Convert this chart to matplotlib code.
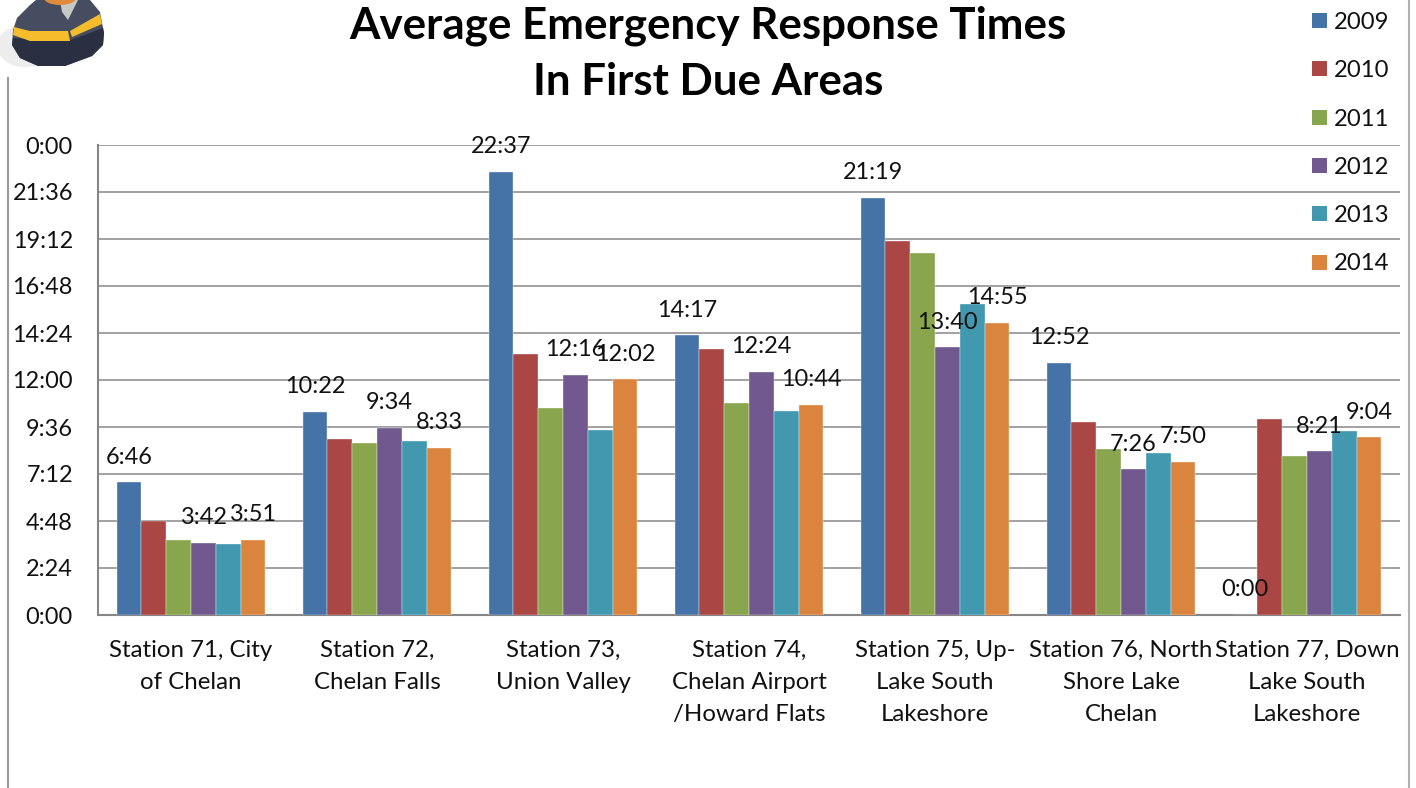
import matplotlib
matplotlib.use("Agg")
import matplotlib.pyplot as plt
from matplotlib.patches import Ellipse, Polygon
import numpy as np

plt.rcParams['font.family'] = ['Lato', 'DejaVu Sans']

stations = ["Station 71, City\nof Chelan", "Station 72,\nChelan Falls", "Station 73,\nUnion Valley",
            "Station 74,\nChelan Airport\n/Howard Flats", "Station 75, Up-\nLake South\nLakeshore",
            "Station 76, North\nShore Lake\nChelan", "Station 77, Down\nLake South\nLakeshore"]
years = ["2009", "2010", "2011", "2012", "2013", "2014"]
colors = ["#4572A7", "#AA4643", "#89A54E", "#71588F", "#4198AF", "#DB843D"]

# values in seconds
v2009 = [406, 622, 1357, 857, 1279, 772, 0]
v2010 = [288, 539, 800, 815, 1146, 592, 600]
v2011 = [230, 527, 634, 650, 1109, 509, 487]
v2012 = [222, 574, 736, 744, 820, 446, 501]
v2013 = [218, 533, 567, 625, 953, 496, 564]
v2014 = [231, 513, 722, 644, 895, 470, 544]
series = [v2009, v2010, v2011, v2012, v2013, v2014]
labelled = ["2009", "2012", "2014"]

y_ticks = [0, 144, 288, 432, 576, 720, 864, 1008, 1152, 1296, 1440]
y_tick_labels = ["0:00", "2:24", "4:48", "7:12", "9:36", "12:00", "14:24", "16:48", "19:12", "21:36", "0:00"]

title_lines = ["Average Emergency Response Times", "In First Due Areas"]

W, H = 1416, 788
fig = plt.figure(figsize=(W / 100, H / 100), dpi=100, facecolor="white")
ax = fig.add_axes([98 / W, (H - 615) / H, (1400 - 98) / W, 470 / H])

n = len(series)
bw = 1 / 7.5
x = np.arange(len(stations))
for i, (vals, c, yr) in enumerate(zip(series, colors, years)):
    bars = ax.bar(x + (i - (n - 1) / 2) * bw, vals, bw, color=c, edgecolor="#FFFFFF", linewidth=0.25, zorder=3)
    if yr in labelled:
        lab = [f"{v // 60}:{v % 60:02d}" for v in vals]
        texts = ax.bar_label(bars, labels=lab, padding=18.2, fontsize=16.9, color="#111111", zorder=5)
        for t in texts:
            t.set_va("center")

ax.set_xlim(-0.5, len(stations) - 0.5)
ax.set_ylim(0, 1440)
ax.set_yticks(y_ticks)
ax.set_yticklabels(y_tick_labels, fontsize=16.9, color="#111111")
ax.set_xticks(x)
ax.set_xticklabels(stations, fontsize=17.3, color="#111111", linespacing=1.63)
ax.tick_params(axis="y", length=0, pad=18)
ax.tick_params(axis="x", length=0, pad=18.2)
ax.grid(axis="y", color="#9A9A9A", linewidth=1.3, zorder=0)
ax.set_axisbelow(True)
for s in ["top", "right"]:
    ax.spines[s].set_visible(False)
for s in ["left", "bottom"]:
    ax.spines[s].set_color("#868686")
    ax.spines[s].set_linewidth(1.5)

# overlay in pixel coordinates
ov = fig.add_axes([0, 0, 1, 1], zorder=10)
ov.set_xlim(0, W)
ov.set_ylim(H, 0)
ov.axis("off")
ov.patch.set_alpha(0)

ov.plot([8, 8], [78, H], color="#9A9A9A", lw=1.5)
ov.plot([1409, 1409], [0, H], color="#B0B0B0", lw=1.5)

# title
ov.text(708, 26, title_lines[0], ha="center", va="center", fontsize=31.6, fontweight="bold", color="black")
ov.text(708, 82, title_lines[1], ha="center", va="center", fontsize=31.6, fontweight="bold", color="black")

# legend
for yy, yr, c in zip([20, 68, 117, 165, 213, 262], years, colors):
    ov.add_patch(plt.Rectangle((1312, yy - 7.5), 15, 15, color=c, lw=0))
    ov.text(1334, yy + 2, yr, ha="left", va="center", fontsize=17.2, color="#111111")

# firefighter icon
ov.add_patch(Ellipse((25, 46), 56, 42, color="#EDEDED", lw=0))
ov.add_patch(Polygon([[17, 18], [30, 5], [36, 0], [90, 0], [100, 12], [104, 33], [103, 45], [92, 56],
                      [65, 66], [38, 66], [20, 58], [12, 45], [13, 30]], color="#474D60", lw=0))
ov.add_patch(Polygon([[13, 38], [68, 41], [103, 28], [104, 33], [103, 45], [92, 56],
                      [65, 66], [38, 66], [20, 58], [12, 45]], color="#2B2F42", lw=0))
ov.add_patch(Polygon([[60, 0], [78, 0], [68, 20], [62, 12]], color="#C8C8C4", lw=0))
ov.add_patch(Ellipse((60, -2), 32, 14, color="#E08A3C", lw=0))
ov.add_patch(Polygon([[14, 27], [30, 31], [68, 31], [70, 41], [30, 41], [13, 35]], color="#F5BC2C", lw=0))
ov.add_patch(Polygon([[70, 31], [100, 14], [102, 24], [72, 37]], color="#F5BC2C", lw=0))

fig.savefig("out.png", dpi=100)
